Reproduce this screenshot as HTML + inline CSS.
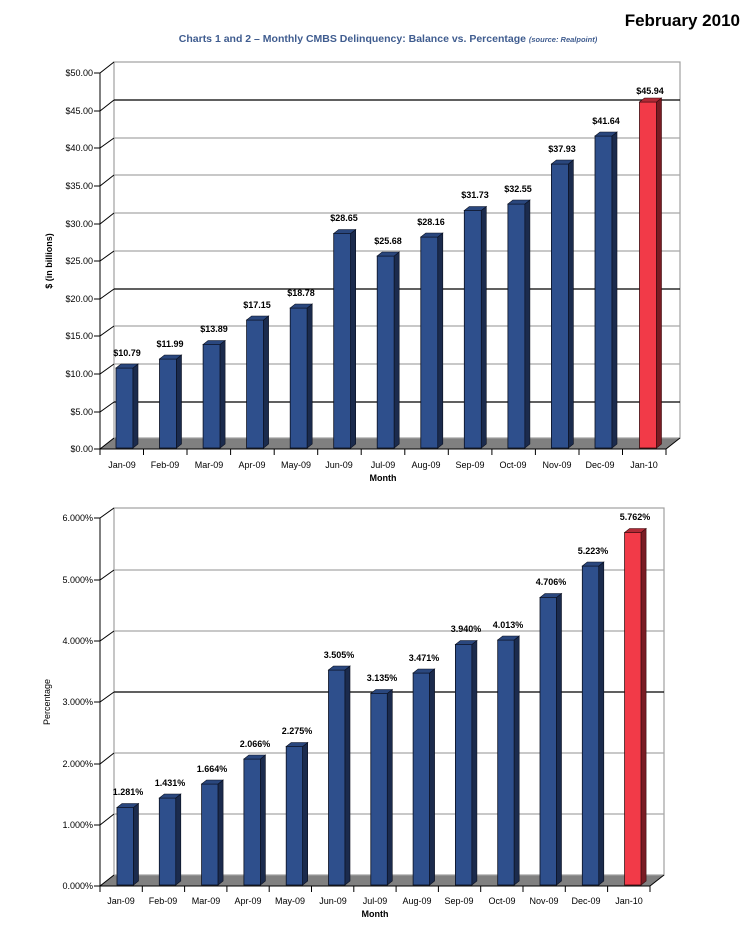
<!DOCTYPE html>
<html><head><meta charset="utf-8"><style>
html,body{margin:0;padding:0;background:#fff;}
svg{display:block;font-family:"Liberation Sans",Arial,sans-serif;}
.t{font-size:9px;fill:#000;}
.v{font-size:9px;font-weight:bold;fill:#000;}
.b rect{fill:#2e4f8c;stroke:#0a1020;stroke-width:0.8}
.b polygon.s{fill:#1b2b4d;stroke:#0a1020;stroke-width:0.6}
.b polygon.p{fill:#2a477e;stroke:#0a1020;stroke-width:0.6}
.r rect{fill:#f23a48;stroke:#3a0a0e;stroke-width:0.8}
.r polygon.s{fill:#7a1c24;stroke:#3a0a0e;stroke-width:0.6}
.r polygon.p{fill:#b02a36;stroke:#3a0a0e;stroke-width:0.6}
</style></head><body>
<svg width="744" height="934" viewBox="0 0 744 934" xmlns="http://www.w3.org/2000/svg">
<text x="740" y="26" text-anchor="end" style="font-size:17px;font-weight:bold">February 2010</text>
<text x="388" y="42" text-anchor="middle" style="font-size:10.5px;font-weight:bold;fill:#3f5c8f">Charts 1 and 2 – Monthly CMBS Delinquency: Balance vs. Percentage <tspan style="font-size:7.5px;font-style:italic">(source: Realpoint)</tspan></text>

<!-- CHART 1 -->
<g>
<polygon points="100,449 666,449 680,438 114,438" fill="#808080"/>
<rect x="114" y="62" width="566" height="376" fill="none" stroke="#a0a0a0" stroke-width="1.2"/>
<g stroke-width="1.2">
<line x1="114" y1="100" x2="680" y2="100" stroke="#000"/>
<line x1="114" y1="138" x2="680" y2="138" stroke="#a8a8a8"/>
<line x1="114" y1="175" x2="680" y2="175" stroke="#a8a8a8"/>
<line x1="114" y1="213" x2="680" y2="213" stroke="#a8a8a8"/>
<line x1="114" y1="251" x2="680" y2="251" stroke="#a8a8a8"/>
<line x1="114" y1="289" x2="680" y2="289" stroke="#000"/>
<line x1="114" y1="326" x2="680" y2="326" stroke="#a8a8a8"/>
<line x1="114" y1="364" x2="680" y2="364" stroke="#a8a8a8"/>
<line x1="114" y1="402" x2="680" y2="402" stroke="#000"/>
</g>
<g stroke="#000" stroke-width="1">
<line x1="100" y1="73" x2="100" y2="455"/>
<line x1="100" y1="449" x2="666" y2="449"/>
<path d="M94,73H100L114,62 M94,111H100L114,100 M94,148H100L114,138 M94,186H100L114,175 M94,224H100L114,213 M94,261H100L114,251 M94,299H100L114,289 M94,336H100L114,326 M94,374H100L114,364 M94,412H100L114,402 M94,449H100L114,438" fill="none"/>
<path d="M143.5,449V455 M187,449V455 M230.6,449V455 M274.2,449V455 M317.7,449V455 M361.2,449V455 M404.8,449V455 M448.3,449V455 M491.9,449V455 M535.4,449V455 M579,449V455 M622.5,449V455 M666,449V455 M666,449L680,438"/>
</g>
<g class="t" text-anchor="end">
<text x="93" y="76">$50.00</text><text x="93" y="114">$45.00</text><text x="93" y="151">$40.00</text><text x="93" y="189">$35.00</text><text x="93" y="227">$30.00</text><text x="93" y="264">$25.00</text><text x="93" y="302">$20.00</text><text x="93" y="339">$15.00</text><text x="93" y="377">$10.00</text><text x="93" y="415">$5.00</text><text x="93" y="452">$0.00</text>
</g>
<text class="t" transform="translate(52,261) rotate(-90)" text-anchor="middle" style="font-weight:bold">$ (in billions)</text>
<g class="t" text-anchor="middle">
<text x="122" y="468">Jan-09</text><text x="165" y="468">Feb-09</text><text x="209" y="468">Mar-09</text><text x="252" y="468">Apr-09</text><text x="296" y="468">May-09</text><text x="339" y="468">Jun-09</text><text x="383" y="468">Jul-09</text><text x="426" y="468">Aug-09</text><text x="470" y="468">Sep-09</text><text x="513" y="468">Oct-09</text><text x="557" y="468">Nov-09</text><text x="600" y="468">Dec-09</text><text x="644" y="468">Jan-10</text>
</g>
<text class="t" x="383" y="481" text-anchor="middle" style="font-weight:bold">Month</text>

<g class="b" transform="translate(116,0)"><rect x="0" y="368" width="17" height="80"/><polygon class="s" points="17,368 22,364 22,444 17,448"/><polygon class="p" points="0,368 5,364 22,364 17,368"/></g>
<g class="b" transform="translate(159.5,0)"><rect x="0" y="359" width="17" height="89"/><polygon class="s" points="17,359 22,355 22,444 17,448"/><polygon class="p" points="0,359 5,355 22,355 17,359"/></g>
<g class="b" transform="translate(203.1,0)"><rect x="0" y="344.5" width="17" height="103.5"/><polygon class="s" points="17,344.5 22,340.5 22,444 17,448"/><polygon class="p" points="0,344.5 5,340.5 22,340.5 17,344.5"/></g>
<g class="b" transform="translate(246.6,0)"><rect x="0" y="320" width="17" height="128"/><polygon class="s" points="17,320 22,316 22,444 17,448"/><polygon class="p" points="0,320 5,316 22,316 17,320"/></g>
<g class="b" transform="translate(290.2,0)"><rect x="0" y="308" width="17" height="140"/><polygon class="s" points="17,308 22,304 22,444 17,448"/><polygon class="p" points="0,308 5,304 22,304 17,308"/></g>
<g class="b" transform="translate(333.7,0)"><rect x="0" y="233.5" width="17" height="214.5"/><polygon class="s" points="17,233.5 22,229.5 22,444 17,448"/><polygon class="p" points="0,233.5 5,229.5 22,229.5 17,233.5"/></g>
<g class="b" transform="translate(377.2,0)"><rect x="0" y="256" width="17" height="192"/><polygon class="s" points="17,256 22,252 22,444 17,448"/><polygon class="p" points="0,256 5,252 22,252 17,256"/></g>
<g class="b" transform="translate(420.8,0)"><rect x="0" y="237" width="17" height="211"/><polygon class="s" points="17,237 22,233 22,444 17,448"/><polygon class="p" points="0,237 5,233 22,233 17,237"/></g>
<g class="b" transform="translate(464.3,0)"><rect x="0" y="210.5" width="17" height="237.5"/><polygon class="s" points="17,210.5 22,206.5 22,444 17,448"/><polygon class="p" points="0,210.5 5,206.5 22,206.5 17,210.5"/></g>
<g class="b" transform="translate(507.9,0)"><rect x="0" y="204" width="17" height="244"/><polygon class="s" points="17,204 22,200 22,444 17,448"/><polygon class="p" points="0,204 5,200 22,200 17,204"/></g>
<g class="b" transform="translate(551.4,0)"><rect x="0" y="164" width="17" height="284"/><polygon class="s" points="17,164 22,160 22,444 17,448"/><polygon class="p" points="0,164 5,160 22,160 17,164"/></g>
<g class="b" transform="translate(595,0)"><rect x="0" y="136" width="17" height="312"/><polygon class="s" points="17,136 22,132 22,444 17,448"/><polygon class="p" points="0,136 5,132 22,132 17,136"/></g>
<g class="r" transform="translate(639.5,0)"><rect x="0" y="102" width="17" height="346"/><polygon class="s" points="17,102 22,98 22,444 17,448"/><polygon class="p" points="0,102 5,98 22,98 17,102"/></g>
<g class="v" text-anchor="middle">
<text x="127" y="356">$10.79</text><text x="170" y="347">$11.99</text><text x="214" y="332">$13.89</text><text x="257" y="308">$17.15</text><text x="301" y="296">$18.78</text><text x="344" y="221">$28.65</text><text x="388" y="244">$25.68</text><text x="431" y="225">$28.16</text><text x="475" y="198">$31.73</text><text x="518" y="192">$32.55</text><text x="562" y="152">$37.93</text><text x="606" y="124">$41.64</text><text x="650" y="94">$45.94</text>
</g>
</g>

<!-- CHART 2 -->
<g>
<polygon points="100,886 650,886 664,875 114,875" fill="#808080"/>
<rect x="114" y="508" width="550" height="367" fill="none" stroke="#a0a0a0" stroke-width="1.2"/>
<g stroke-width="1.2">
<line x1="114" y1="570" x2="664" y2="570" stroke="#a8a8a8"/>
<line x1="114" y1="631" x2="664" y2="631" stroke="#a8a8a8"/>
<line x1="114" y1="692" x2="664" y2="692" stroke="#000"/>
<line x1="114" y1="753" x2="664" y2="753" stroke="#a8a8a8"/>
<line x1="114" y1="814" x2="664" y2="814" stroke="#a8a8a8"/>
</g>
<g stroke="#000" stroke-width="1">
<line x1="100" y1="518" x2="100" y2="892"/>
<line x1="100" y1="886" x2="650" y2="886"/>
<path d="M94,518H100L114,508 M94,580H100L114,570 M94,641H100L114,631 M94,702H100L114,692 M94,764H100L114,753 M94,825H100L114,814 M94,886H100L114,875" fill="none"/>
<path d="M142.3,886V892 M184.6,886V892 M226.9,886V892 M269.2,886V892 M311.5,886V892 M353.8,886V892 M396.1,886V892 M438.4,886V892 M480.7,886V892 M523,886V892 M565.3,886V892 M607.6,886V892 M650,886V892 M650,886L664,875"/>
</g>
<g class="t" text-anchor="end">
<text x="93" y="521">6.000%</text><text x="93" y="583">5.000%</text><text x="93" y="644">4.000%</text><text x="93" y="705">3.000%</text><text x="93" y="767">2.000%</text><text x="93" y="828">1.000%</text><text x="93" y="889">0.000%</text>
</g>
<text class="t" transform="translate(50,702) rotate(-90)" text-anchor="middle">Percentage</text>
<g class="t" text-anchor="middle">
<text x="121" y="904">Jan-09</text><text x="163" y="904">Feb-09</text><text x="206" y="904">Mar-09</text><text x="248" y="904">Apr-09</text><text x="290" y="904">May-09</text><text x="333" y="904">Jun-09</text><text x="375" y="904">Jul-09</text><text x="417" y="904">Aug-09</text><text x="459" y="904">Sep-09</text><text x="502" y="904">Oct-09</text><text x="544" y="904">Nov-09</text><text x="586" y="904">Dec-09</text><text x="629" y="904">Jan-10</text>
</g>
<text class="t" x="375" y="917" text-anchor="middle" style="font-weight:bold">Month</text>

<g class="b" transform="translate(117,0)"><rect x="0" y="807.5" width="16.5" height="77.5"/><polygon class="s" points="16.5,807.5 21.5,803.5 21.5,881 16.5,885"/><polygon class="p" points="0,807.5 5,803.5 21.5,803.5 16.5,807.5"/></g>
<g class="b" transform="translate(159.3,0)"><rect x="0" y="798" width="16.5" height="87"/><polygon class="s" points="16.5,798 21.5,794 21.5,881 16.5,885"/><polygon class="p" points="0,798 5,794 21.5,794 16.5,798"/></g>
<g class="b" transform="translate(201.6,0)"><rect x="0" y="784" width="16.5" height="101"/><polygon class="s" points="16.5,784 21.5,780 21.5,881 16.5,885"/><polygon class="p" points="0,784 5,780 21.5,780 16.5,784"/></g>
<g class="b" transform="translate(243.9,0)"><rect x="0" y="759" width="16.5" height="126"/><polygon class="s" points="16.5,759 21.5,755 21.5,881 16.5,885"/><polygon class="p" points="0,759 5,755 21.5,755 16.5,759"/></g>
<g class="b" transform="translate(286.2,0)"><rect x="0" y="746.5" width="16.5" height="138.5"/><polygon class="s" points="16.5,746.5 21.5,742.5 21.5,881 16.5,885"/><polygon class="p" points="0,746.5 5,742.5 21.5,742.5 16.5,746.5"/></g>
<g class="b" transform="translate(328.5,0)"><rect x="0" y="670" width="16.5" height="215"/><polygon class="s" points="16.5,670 21.5,666 21.5,881 16.5,885"/><polygon class="p" points="0,670 5,666 21.5,666 16.5,670"/></g>
<g class="b" transform="translate(370.8,0)"><rect x="0" y="693.5" width="16.5" height="191.5"/><polygon class="s" points="16.5,693.5 21.5,689.5 21.5,881 16.5,885"/><polygon class="p" points="0,693.5 5,689.5 21.5,689.5 16.5,693.5"/></g>
<g class="b" transform="translate(413.1,0)"><rect x="0" y="673" width="16.5" height="212"/><polygon class="s" points="16.5,673 21.5,669 21.5,881 16.5,885"/><polygon class="p" points="0,673 5,669 21.5,669 16.5,673"/></g>
<g class="b" transform="translate(455.4,0)"><rect x="0" y="644.5" width="16.5" height="240.5"/><polygon class="s" points="16.5,644.5 21.5,640.5 21.5,881 16.5,885"/><polygon class="p" points="0,644.5 5,640.5 21.5,640.5 16.5,644.5"/></g>
<g class="b" transform="translate(497.7,0)"><rect x="0" y="640" width="16.5" height="245"/><polygon class="s" points="16.5,640 21.5,636 21.5,881 16.5,885"/><polygon class="p" points="0,640 5,636 21.5,636 16.5,640"/></g>
<g class="b" transform="translate(540,0)"><rect x="0" y="597.5" width="16.5" height="287.5"/><polygon class="s" points="16.5,597.5 21.5,593.5 21.5,881 16.5,885"/><polygon class="p" points="0,597.5 5,593.5 21.5,593.5 16.5,597.5"/></g>
<g class="b" transform="translate(582.3,0)"><rect x="0" y="566" width="16.5" height="319"/><polygon class="s" points="16.5,566 21.5,562 21.5,881 16.5,885"/><polygon class="p" points="0,566 5,562 21.5,562 16.5,566"/></g>
<g class="r" transform="translate(624.6,0)"><rect x="0" y="532.5" width="16.5" height="352.5"/><polygon class="s" points="16.5,532.5 21.5,528.5 21.5,881 16.5,885"/><polygon class="p" points="0,532.5 5,528.5 21.5,528.5 16.5,532.5"/></g>
<g class="v" text-anchor="middle">
<text x="128" y="795">1.281%</text><text x="170" y="786">1.431%</text><text x="212" y="772">1.664%</text><text x="255" y="747">2.066%</text><text x="297" y="734">2.275%</text><text x="339" y="658">3.505%</text><text x="382" y="681">3.135%</text><text x="424" y="661">3.471%</text><text x="466" y="632">3.940%</text><text x="508" y="628">4.013%</text><text x="551" y="585">4.706%</text><text x="593" y="554">5.223%</text><text x="635" y="520">5.762%</text>
</g>
</g>
</svg>
</body></html>
